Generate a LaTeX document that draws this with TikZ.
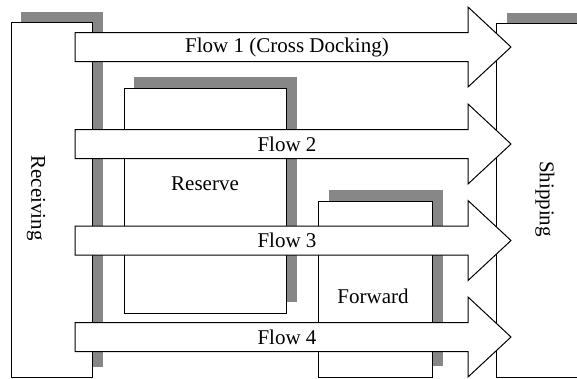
\documentclass[tikz,border=0pt]{standalone}
\usepackage{fontspec}
\setmainfont{Liberation Serif}

\begin{document}
\begin{tikzpicture}[
  x=1pt, y=-1pt,
  lbl/.style={font=\fontsize{21}{24}\selectfont, inner sep=0pt},
  bin/.style={draw, line width=1pt, fill=white},
  shade/.style={fill=black!47},
  flow/.style={draw, line width=1pt, fill=white, line join=miter},
]
\useasboundingbox (0,0) rectangle (577,378);

% Shadows — shifted up and right
\fill[shade] (21,12)  rectangle (103,367);
\fill[shade] (134,77) rectangle (297,302);
\fill[shade] (329,190) rectangle (443,366);
\fill[shade] (507,13) rectangle (590,367);

% Storage areas
\draw[bin] (11,22)  rectangle (92,377);
\draw[bin] (124,88) rectangle (286,313);
\draw[bin] (318,201) rectangle (432,377);
\draw[bin] (496,23) rectangle (580,377);

\node[lbl,rotate=-90] (recv) at (36,198) {Receiving};
\node[lbl] (resv) at (205,184) {Reserve};
\node[lbl] (fwd)  at (373,296) {Forward};
\node[lbl,rotate=-90] (ship) at (545,199) {Shipping};

% Flow arrows on top
\foreach \y/\txt [count=\i] in {47/{Flow 1 (Cross Docking)}, 144/{Flow 2}, 240.5/{Flow 3}, 337/{Flow 4}} {
  \draw[flow] (75,\y-14.5) -- (468,\y-14.5) -- (468,\y-40) -- (511,\y)
    -- (468,\y+40) -- (468,\y+14.5) -- (75,\y+14.5) -- cycle;
  \node[lbl] (flow\i) at (287,\y) {\txt};
}

\end{tikzpicture}
\end{document}
